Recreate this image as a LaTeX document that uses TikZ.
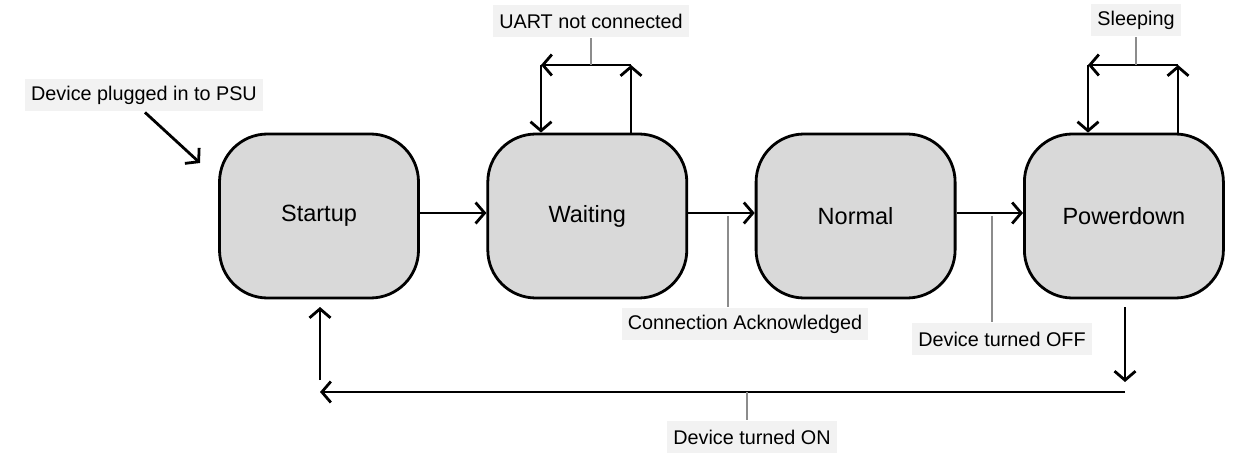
\documentclass[tikz,border=0pt]{standalone}
\usepackage{fontspec}
\setmainfont{Liberation Sans}
\usepackage{xcolor}
\usetikzlibrary{arrows.meta, positioning, calc}

\definecolor{stategray}{HTML}{D9D9D9}
\definecolor{taggray}{HTML}{F2F2F2}
\definecolor{leadgray}{HTML}{8C8C8C}

\begin{document}
\begin{tikzpicture}[x=1pt, y=-1pt, >={Straight Barb[length=9pt, width=21pt]},
            line width=2.8pt,
            state/.style={draw, fill=stategray, rounded corners=48pt, minimum width=199pt, minimum height=164pt, font=\fontsize{23.5}{28}\selectfont},
            tag/.style={fill=taggray, inner xsep=6pt, minimum height=32pt, font=\fontsize{19.8}{23}\selectfont},
            leader/.style={draw=leadgray, line width=2pt}]

            \useasboundingbox (0,0) rectangle (1238,462);

            % states
            \node[state] (startup) at (319,216) {Startup};
            \node[state, right=66.5pt of startup] (waiting) {Waiting};
            \node[state, right=66.5pt of waiting] (normal) {Normal};
            \node[state, right=66.5pt of normal] (powerdown) {Powerdown};

            % labels
            \node[tag] (plugged) at (144,95) {Device plugged in to PSU};
            \node[tag] (uart) at (591,21) {UART not connected};
            \node[tag] (sleeping) at (1136,20) {Sleeping};
            \node[tag] (ack) at (745,324) {Connection Acknowledged};
            \node[tag] (off) at (1002,339) {Device turned OFF};
            \node[tag] (on) at (752,437) {Device turned ON};

            % helper points
            \coordinate (plugend) at (200,163);
            \coordinate (wl) at (541,65);
            \coordinate (wr) at (631,65);
            \coordinate (pl) at (1088,65);
            \coordinate (pr) at (1178,65);
            \coordinate (pdtop) at (1125,307);
            \coordinate (pdbot) at (1125,382);
            \coordinate (onR) at (1125,392);
            \coordinate (onL) at (320,392);
            \coordinate (sttop) at (320,380);
            \coordinate (stbot) at (320,307);
            \coordinate (uartpt) at ($(wl)!0.56!(wr)$);
            \coordinate (ackpt) at ($(waiting.east)!0.6!(normal.west)$);
            \coordinate (offpt) at ($(normal.east)!0.54!(powerdown.west)$);
            \coordinate (onpt) at (747,392);

            % transitions
            \draw[->] ([xshift=1pt]plugged.south) -- (plugend);
            \draw[->] ([yshift=3pt]startup.east) -- ([yshift=3pt]waiting.west);
            \draw[->] ([yshift=3pt]waiting.east) -- ([yshift=3pt]normal.west);
            \draw[->] ([yshift=3pt]normal.east) -- ([yshift=3pt]powerdown.west);

            \draw[->] (waiting.north -| wr) -- (wr);
            \draw[->] (wr) -- (wl);
            \draw[->] (wl) -- (waiting.north -| wl);

            \draw[->] (powerdown.north -| pr) -- (pr);
            \draw[->] (pr) -- (pl);
            \draw[->] (pl) -- (powerdown.north -| pl);

            \draw[->] (pdtop) -- (pdbot);
            \draw[->] (onR) -- (onL);
            \draw[->] (sttop) -- (stbot);

            % label leaders
            \draw[leader] (uart.south -| uartpt) -- (uartpt);
            \draw[leader] (sleeping.south) -- (sleeping.south |- pl);
            \draw[leader] (ackpt) -- (ackpt |- ack.north);
            \draw[leader] (offpt) -- (offpt |- off.north);
            \draw[leader] (onpt) -- (onpt |- on.north);
        \end{tikzpicture}
\end{document}
